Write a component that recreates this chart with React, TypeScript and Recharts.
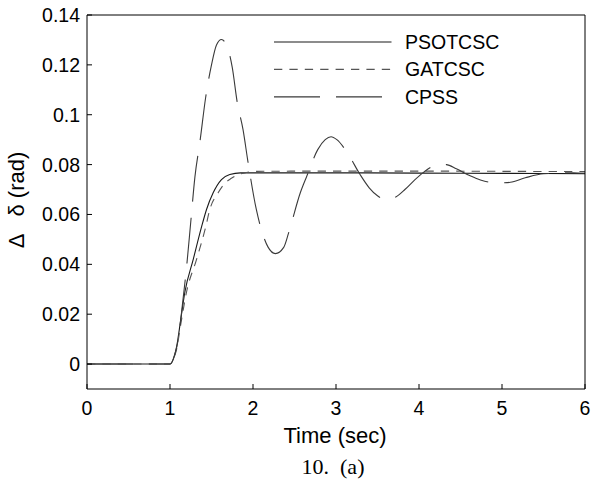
import { LineChart, Line, XAxis, YAxis } from 'recharts'

// PSOTCSC response (solid)
const psoTime = [0, 1.0, 1.04, 1.08, 1.13, 1.18, 1.28, 1.38, 1.44, 1.52, 1.62, 1.72, 1.85, 2.2, 3, 4, 5, 6]
const psoValue = [0, 0, 0.002, 0.007, 0.018, 0.029, 0.042, 0.055, 0.062, 0.0687, 0.074, 0.076, 0.0767, 0.0767, 0.0767, 0.0766, 0.0765, 0.0764]

// GATCSC response (short dashes)
const gaTime = [0, 1.0, 1.04, 1.08, 1.13, 1.2, 1.32, 1.43, 1.48, 1.58, 1.66, 1.74, 1.82, 1.92, 2.05, 3, 4, 5, 6]
const gaValue = [0, 0, 0.002, 0.006, 0.016, 0.029, 0.042, 0.055, 0.062, 0.0687, 0.0725, 0.0745, 0.076, 0.0768, 0.0773, 0.0774, 0.0774, 0.0773, 0.0772]

// CPSS response (long dashes)
const cpssTime = [
  0, 1.0, 1.05, 1.1, 1.15, 1.2, 1.25, 1.3, 1.36, 1.43, 1.5, 1.56, 1.62, 1.68, 1.75, 1.81, 1.88, 1.94,
  2.04, 2.1, 2.18, 2.27, 2.37, 2.43, 2.57, 2.65, 2.78, 2.87, 2.94, 3.01, 3.15, 3.29, 3.4, 3.5, 3.61,
  3.72, 3.83, 3.94, 4.05, 4.17, 4.33, 4.45, 4.61, 4.74, 4.86, 5.0, 5.1, 5.28, 5.5, 5.86, 6,
]
const cpssValue = [
  0, 0, 0.003, 0.01, 0.024, 0.039, 0.057, 0.075, 0.089, 0.107, 0.12, 0.128, 0.1302, 0.128, 0.119, 0.105, 0.094, 0.081,
  0.062, 0.054, 0.047, 0.0443, 0.0468, 0.0527, 0.0687, 0.0755, 0.086, 0.09, 0.0912, 0.09, 0.084, 0.076, 0.0707, 0.0675, 0.066,
  0.067, 0.07, 0.0736, 0.0768, 0.0793, 0.08, 0.0783, 0.0756, 0.0738, 0.0729, 0.0727, 0.0729, 0.0747, 0.0763, 0.0767, 0.0765,
]

const xTicks = [0, 1, 2, 3, 4, 5, 6]
const yTicks = [0, 0.02, 0.04, 0.06, 0.08, 0.1, 0.12, 0.14]

const seriesNames = ['PSOTCSC', 'GATCSC', 'CPSS']

const zip = (t: number[], v: number[]) => t.map((time, i) => ({ time, value: v[i] }))

const psoData = zip(psoTime, psoValue)
const gaData = zip(gaTime, gaValue)
const cpssData = zip(cpssTime, cpssValue)

const FONT = '"Liberation Sans", Arial, sans-serif'
const TICK_FONT = 19.5
const TICK_LEN = 5

const SERIES_STYLE = [
  { stroke: '#1a1a1a', dash: undefined as string | undefined },
  { stroke: '#555', dash: '8.3 7.1' },
  { stroke: '#3a3a3a', dash: '46 16' },
]

function BottomTick({ x, y, payload }: any) {
  return (
    <g>
      <line x1={x} x2={x} y1={y} y2={y - TICK_LEN} stroke="#000" />
      <text x={x} y={y + 26} textAnchor="middle" fontSize={TICK_FONT} fontFamily={FONT} fill="#000">
        {payload.value}
      </text>
    </g>
  )
}

function TopTick({ x, y }: any) {
  return <line x1={x} x2={x} y1={y} y2={y + TICK_LEN} stroke="#000" />
}

function LeftTick({ x, y, payload }: any) {
  return (
    <g>
      <line x1={x} x2={x + TICK_LEN} y1={y} y2={y} stroke="#000" />
      <text x={x - 7} y={y + 7} textAnchor="end" fontSize={TICK_FONT} fontFamily={FONT} fill="#000">
        {String(payload.value)}
      </text>
    </g>
  )
}

function RightTick({ x, y }: any) {
  return <line x1={x} x2={x - TICK_LEN} y1={y} y2={y} stroke="#000" />
}

function LegendBox() {
  return (
    <svg width={230} height={80} style={{ display: 'block' }}>
      {seriesNames.map((name, i) => (
        <g key={name}>
          <line
            x1={0}
            x2={117.5}
            y1={12 + i * 27.4}
            y2={12 + i * 27.4}
            stroke={SERIES_STYLE[i].stroke}
            strokeWidth={1.2}
            strokeDasharray={SERIES_STYLE[i].dash}
          />
          <text x={131} y={12 + i * 27.4 + 7} fontSize={TICK_FONT} fontFamily={FONT} fill="#000">
            {name}
          </text>
        </g>
      ))}
    </svg>
  )
}

export default function App() {
  return (
    <div style={{ position: 'absolute', left: 0, top: 0, width: 591, height: 481, background: '#fff', fontFamily: FONT }}>
      <LineChart width={591} height={481} margin={{ top: 10, right: 1, bottom: 62, left: 27 }}>
        <XAxis
          xAxisId="bottom"
          dataKey="time"
          type="number"
          domain={[0, 6]}
          ticks={xTicks}
          interval={0}
          height={30}
          tickSize={0}
          tickMargin={0}
          tickLine={false}
          axisLine={{ stroke: '#000' }}
          tick={<BottomTick />}
        />
        <XAxis
          xAxisId="top"
          orientation="top"
          dataKey="time"
          type="number"
          domain={[0, 6]}
          ticks={xTicks}
          interval={0}
          height={5}
          tickSize={0}
          tickMargin={0}
          tickLine={false}
          axisLine={{ stroke: '#000' }}
          tick={<TopTick />}
        />
        <YAxis
          yAxisId="left"
          type="number"
          domain={[-0.01, 0.14]}
          ticks={yTicks}
          interval={0}
          width={60}
          tickSize={0}
          tickMargin={0}
          tickLine={false}
          axisLine={{ stroke: '#000' }}
          tick={<LeftTick />}
        />
        <YAxis
          yAxisId="right"
          orientation="right"
          type="number"
          domain={[-0.01, 0.14]}
          ticks={yTicks}
          interval={0}
          width={5}
          tickSize={0}
          tickMargin={0}
          tickLine={false}
          axisLine={{ stroke: '#000' }}
          tick={<RightTick />}
        />
        <Line
          xAxisId="bottom"
          yAxisId="left"
          data={psoData}
          dataKey="value"
          name={seriesNames[0]}
          type="monotone"
          stroke={SERIES_STYLE[0].stroke}
          strokeWidth={1.1}
          dot={false}
          isAnimationActive={false}
        />
        <Line
          xAxisId="bottom"
          yAxisId="left"
          data={gaData}
          dataKey="value"
          name={seriesNames[1]}
          type="monotone"
          stroke={SERIES_STYLE[1].stroke}
          strokeWidth={1.1}
          strokeDasharray={SERIES_STYLE[1].dash}
          dot={false}
          isAnimationActive={false}
        />
        <Line
          xAxisId="bottom"
          yAxisId="left"
          data={cpssData}
          dataKey="value"
          name={seriesNames[2]}
          type="monotone"
          stroke={SERIES_STYLE[2].stroke}
          strokeWidth={1.1}
          strokeDasharray={SERIES_STYLE[2].dash}
          dot={false}
          isAnimationActive={false}
        />
      </LineChart>
      <div style={{ position: 'absolute', left: 274, top: 30 }}>
        <LegendBox />
      </div>
      <div
        style={{
          position: 'absolute',
          left: 17,
          top: 200,
          transform: 'translate(-50%, -50%) rotate(-90deg)',
          fontSize: 22,
          whiteSpace: 'pre',
          lineHeight: 1,
          color: '#000',
        }}
      >
        {'Δ   δ (rad)'}
      </div>
      <div
        style={{
          position: 'absolute',
          left: 335,
          top: 436,
          transform: 'translate(-50%, -50%)',
          fontSize: 22,
          whiteSpace: 'pre',
          lineHeight: 1,
          color: '#000',
        }}
      >
        Time (sec)
      </div>
      <div
        style={{
          position: 'absolute',
          left: 333,
          top: 467,
          transform: 'translate(-50%, -50%)',
          fontSize: 22,
          fontFamily: '"Liberation Serif", "Times New Roman", serif',
          whiteSpace: 'pre',
          lineHeight: 1,
          color: '#000',
        }}
      >
        {'10.  (a)'}
      </div>
    </div>
  )
}
